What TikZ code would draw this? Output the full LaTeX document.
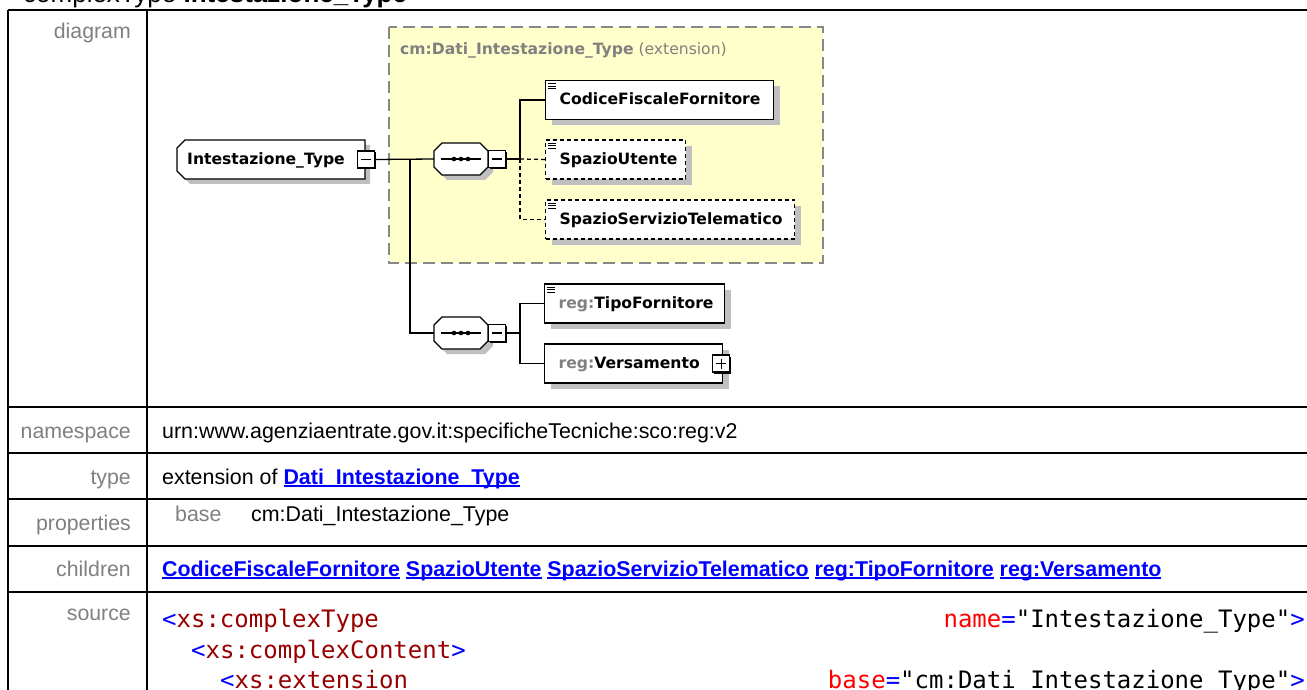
\documentclass[tikz,border=0pt]{standalone}
\usepackage{fontspec}
\setmainfont{Liberation Sans}
\newfontfamily\diagfont{DejaVu Sans}
\newfontfamily\srcfont{DejaVu Sans Mono}
\usetikzlibrary{shadows}
\definecolor{lblgray}{RGB}{128,128,128}
\definecolor{linkblue}{RGB}{0,0,255}
\definecolor{yellowfill}{RGB}{255,255,204}
\definecolor{dashgray}{RGB}{136,136,136}
\definecolor{shadowgray}{RGB}{192,192,192}
\definecolor{srcblue}{RGB}{0,0,255}
\definecolor{srcred}{RGB}{150,0,0}
\definecolor{attrred}{RGB}{255,0,0}
\newcommand\lnkul[1]{{\setbox0\hbox{#1}\rlap{\rule[-2.6pt]{\wd0}{1.5pt}}\box0}}
\newcommand\eb[2]{\makebox[#1pt][l]{#2}}
\newcommand\octo[6]{%
  \fill[shadowgray,shift={(5,5)}] (#1+#5,#2) -- (#3-#6,#2) -- (#3,#2+#6) -- (#3,#4-#6) -- (#3-#6,#4) -- (#1+#5,#4) -- (#1,#4-#5) -- (#1,#2+#5) -- cycle;
  \draw[line width=1.3pt,fill=white] (#1+#5,#2) -- (#3-#6,#2) -- (#3,#2+#6) -- (#3,#4-#6) -- (#3-#6,#4) -- (#1+#5,#4) -- (#1,#4-#5) -- (#1,#2+#5) -- cycle;}
\newcommand\docicon[1]{\foreach \d in {4,6.5,9}{\draw[line width=1pt] ([shift={(3pt,-\d pt)}]#1.north west) -- ++(8,0);}}
\begin{document}
\begin{tikzpicture}[x=1pt,y=-1pt,
  lbl/.style={anchor=base east, inner sep=0pt, text=lblgray, font=\fontsize{21.3}{25}\selectfont},
  cell/.style={anchor=base west, inner sep=0pt, font=\fontsize{21.4}{25}\selectfont},
  src/.style={anchor=base west, inner sep=0pt, font=\srcfont\fontsize{24}{28}\selectfont},
  tline/.style={line width=2pt, black},
  elem/.style={draw=black, line width=1.3pt, fill=white, anchor=west, minimum height=39pt, inner ysep=0pt, inner xsep=14pt, text height=13pt, text depth=3pt, font=\diagfont\bfseries\fontsize{15.6}{18}\selectfont, drop shadow={shadow xshift=6pt, shadow yshift=-6pt, opacity=1, fill=shadowgray}},
  optelem/.style={elem, dash pattern=on 4pt off 3pt},
  pmbox/.style={draw=black, line width=1.3pt, fill=white, minimum size=17pt, inner sep=0pt, drop shadow={shadow xshift=1.5pt, shadow yshift=-1.5pt, opacity=1, fill=black}},
  minusbox/.style={pmbox, path picture={\draw[line width=1.3pt] ([xshift=3.5pt]path picture bounding box.west) -- ([xshift=-3.5pt]path picture bounding box.east);}},
  plusbox/.style={pmbox, path picture={\draw[line width=1.3pt] ([xshift=3.5pt]path picture bounding box.west) -- ([xshift=-3.5pt]path picture bounding box.east); \draw[line width=1.3pt] ([yshift=-3.5pt]path picture bounding box.north) -- ([yshift=3.5pt]path picture bounding box.south);}},
  seqnode/.style={minimum width=54pt, minimum height=32pt, inner sep=0pt},
  conn/.style={line width=1.3pt, black},
  optconn/.style={conn, dash pattern=on 4pt off 3pt}
]
\clip (0,0) rectangle (1307,690);
\useasboundingbox (0,0) rectangle (1307,690);
\fill[white] (0,0) rectangle (1307,690);

% title (cut at top)
\node[anchor=base west, inner sep=0pt, font=\fontsize{26}{30}\selectfont] (title) at (23,3) {complexType \textbf{Intestazione\_Type}};

% table
\draw[tline] (8,10) -- (1307,10);
\draw[tline] (8,10) -- (8,690);
\draw[tline] (147,10) -- (147,690);
\foreach \yy in {407,453,499,546,592} \draw[tline] (8,\yy) -- (1307,\yy);

% labels
\node[lbl] (ldiag) at (131,39) {diagram};
\node[lbl] (lns) at (131,438) {namespace};
\node[lbl] (ltype) at (131,484) {type};
\node[lbl] (lprop) at (131,530) {properties};
\node[lbl] (lchild) at (131,576) {children};
\node[lbl] (lsrc) at (131,620) {source};

\node[cell] (ns) at (162,438) {urn:www.agenziaentrate.gov.it:specificheTecniche:sco:reg:v2};
\node[cell] (ty) at (162,484) {extension of {\color{linkblue}\bfseries\lnkul{Dati\_Intestazione\_Type}}};
\node[cell, text=lblgray] (pbase) at (175,521) {base};
\node[cell] (pval) at (251,521) {cm:Dati\_Intestazione\_Type};
\node[cell, text=linkblue, font=\fontsize{21.4}{25}\selectfont\bfseries] (ch) at (162,576) {\lnkul{CodiceFiscaleFornitore} \lnkul{SpazioUtente} \lnkul{SpazioServizioTelematico} \lnkul{reg:TipoFornitore} \lnkul{reg:Versamento}};

\node[src] (s1a) at (162,627) {\textcolor{srcblue}{<}\textcolor{srcred}{xs:complexType}};
\node[src, anchor=base east] (s1b) at (1305,627) {\textcolor{attrred}{name}\textcolor{srcblue}{=}"Intestazione\_Type"\textcolor{srcblue}{>}};
\node[src] (s2) at (191,658) {\textcolor{srcblue}{<}\textcolor{srcred}{xs:complexContent}\textcolor{srcblue}{>}};
\node[src] (s3a) at (220,688) {\textcolor{srcblue}{<}\textcolor{srcred}{xs:extension}};
\node[src, anchor=base east] (s3b) at (1305,688) {\textcolor{attrred}{base}\textcolor{srcblue}{=}"cm:Dati\_Intestazione\_Type"\textcolor{srcblue}{>}};

% diagram: extension box
\draw[dashgray, fill=yellowfill, line width=1.5pt, dash pattern=on 12pt off 6pt] (389,27) rectangle (823,263);
\node[anchor=base west, inner sep=0pt, text=lblgray, font=\diagfont\fontsize{15.6}{18}\selectfont] (extl) at (400,54.5) {\textbf{cm:Dati\_Intestazione\_Type} (extension)};

% shapes
\octo{177}{140}{365}{179}{8}{0}
\octo{434}{143}{488}{175}{8}{8}
\octo{434}{317}{488}{349}{8}{8}

\node[anchor=west, inner sep=0pt, text height=13pt, text depth=3pt, font=\diagfont\bfseries\fontsize{15.6}{18}\selectfont] (root) at (187,159.5) {Intestazione\_Type};
\node[minusbox] (rootm) at (366,159.5) {};

\node[seqnode] (seq1) at (461,159) {};
\node[minusbox, anchor=west] (seq1m) at (488,159) {};
\node[seqnode] (seq2) at (461,333) {};
\node[minusbox, anchor=west] (seq2m) at (488,333) {};

\coordinate (j1) at (410,159.5);
\coordinate (b1) at (520,159);
\coordinate (b2) at (520,333);

\node[elem] (cff) at (545,100) {\eb{200}{CodiceFiscaleFornitore}};
\node[optelem] (su) at (545,159.5) {\eb{112}{SpazioUtente}};
\node[optelem] (sst) at (545,219.5) {\eb{221}{SpazioServizioTelematico}};
\node[elem] (tipo) at (544,303.5) {\eb{152}{\textcolor{lblgray}{reg:}TipoFornitore}};
\node[elem] (vers) at (544,363.5) {\eb{150}{\textcolor{lblgray}{reg:}Versamento}};
\node[plusbox] (versp) at ([xshift=-2pt]vers.east) {};

\docicon{cff}
\docicon{su}
\docicon{sst}
\docicon{tipo}

% sequence symbols
\foreach \s in {seq1,seq2}{
  \draw[line width=1.3pt] ([xshift=7pt]\s.west) -- ([xshift=-7pt]\s.east);
  \foreach \dx in {-7,0,7} \fill ([xshift=\dx pt]\s.center) circle (2.3pt);
}

% connectors
\draw[conn] (rootm.east) -- (seq1.west);
\draw[conn] (j1) |- (seq2.west);
\draw[conn] (seq1m.east) -- (b1);
\draw[conn] (b1) |- (cff.west);
\draw[optconn] (b1) -- (su.west);
\draw[optconn] (b1) |- (sst.west);
\draw[conn] (seq2m.east) -- (b2);
\draw[conn] (b2) |- (tipo.west);
\draw[conn] (b2) |- (vers.west);
\end{tikzpicture}
\end{document}
